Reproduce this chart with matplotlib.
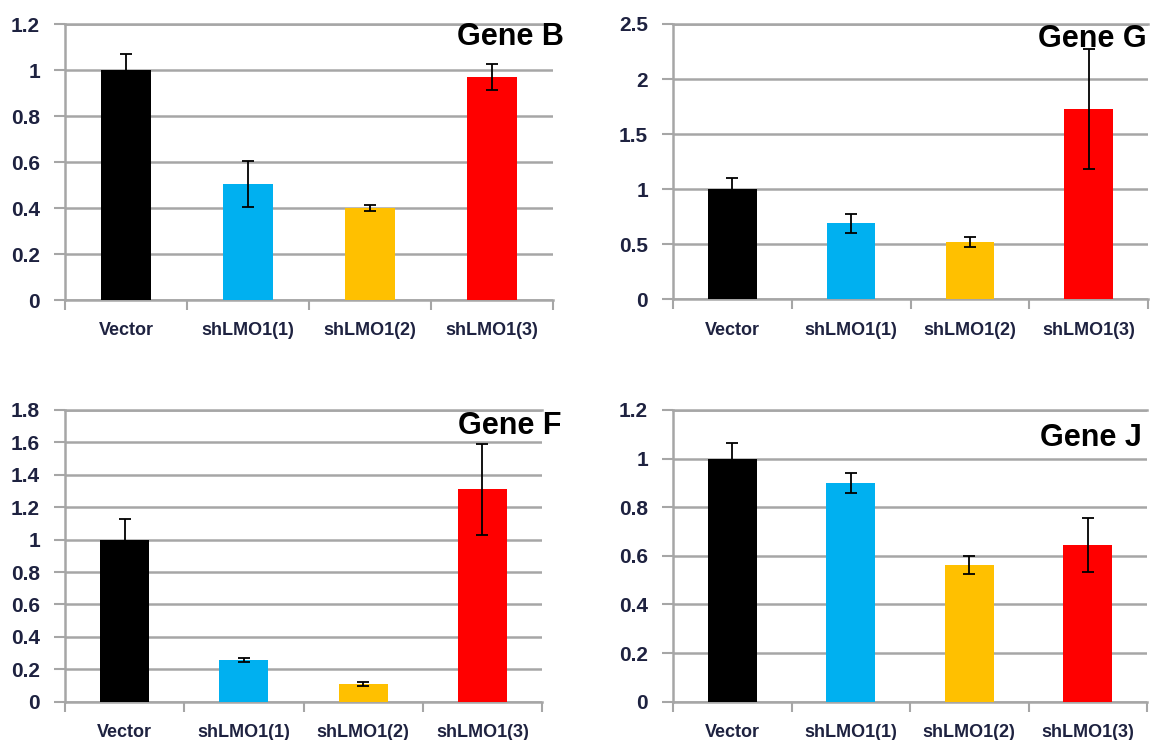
import numpy as np
import matplotlib
matplotlib.use("Agg")
import matplotlib.pyplot as plt
from matplotlib.ticker import FuncFormatter, FixedLocator

plt.rcParams['font.family'] = ['Liberation Sans', 'DejaVu Sans']

categories = ["Vector", "shLMO1(1)", "shLMO1(2)", "shLMO1(3)"]
bar_colors = ["#000000", "#00B0F0", "#FFC000", "#FF0000"]

gene_names = ["Gene B", "Gene G", "Gene F", "Gene J"]
gene_b_vals = [1.00, 0.505, 0.40, 0.968]
gene_b_err = [0.07, 0.10, 0.013, 0.057]
gene_g_vals = [1.00, 0.69, 0.525, 1.725]
gene_g_err = [0.105, 0.085, 0.045, 0.545]
gene_f_vals = [1.00, 0.255, 0.11, 1.31]
gene_f_err = [0.125, 0.013, 0.013, 0.28]
gene_j_vals = [1.00, 0.90, 0.562, 0.645]
gene_j_err = [0.063, 0.042, 0.037, 0.112]

y_max = [1.2, 2.5, 1.8, 1.2]
y_step = [0.2, 0.5, 0.2, 0.2]

W, H = 1150, 740
fig = plt.figure(figsize=(W / 100, H / 100), dpi=100)

# axes boxes in pixels: left, top, right, bottom
boxes = [
    (65, 24, 553, 300),
    (673, 24, 1148, 299.5),
    (65, 410, 542, 701.7),
    (673, 410, 1147, 701.7),
]
title_pos = [(564, 45), (1147, 47), (561, 434), (1142, 446)]

values = [gene_b_vals, gene_g_vals, gene_f_vals, gene_j_vals]
errors = [gene_b_err, gene_g_err, gene_f_err, gene_j_err]

grid_color = "#A6A6A6"
label_color = "#1e2240"

for i in range(4):
    l, t, r, b = boxes[i]
    ax = fig.add_axes([l / W, 1 - b / H, (r - l) / W, (b - t) / H])
    x = np.arange(len(categories))
    ax.bar(x, values[i], width=0.41, color=bar_colors, zorder=3)
    ax.errorbar(x, values[i], yerr=errors[i], fmt="none", ecolor="black",
                elinewidth=1.3, capsize=4.5, capthick=1.3, zorder=4)
    ax.set_xlim(-0.5, len(categories) - 0.5)
    ax.set_ylim(0, y_max[i])
    ticks = np.round(np.arange(0, y_max[i] + 1e-9, y_step[i]), 3)
    ax.set_yticks(ticks)
    ax.yaxis.set_major_formatter(FuncFormatter(lambda v, p: "%g" % v))
    ax.set_xticks(x)
    ax.set_xticklabels(categories, fontsize=13, fontweight="bold", color=label_color)
    ax.xaxis.set_minor_locator(FixedLocator(np.arange(-0.5, len(categories), 1.0)))
    ax.tick_params(axis="x", which="major", length=0, pad=16)
    ax.tick_params(axis="x", which="minor", length=7, width=1.5, color=grid_color, direction="out")
    ax.tick_params(axis="y", which="major", length=8, width=1.5, color=grid_color,
                   direction="out", pad=10, labelsize=15, labelcolor=label_color)
    for lab in ax.get_yticklabels():
        lab.set_fontweight("bold")
    ax.grid(axis="y", color=grid_color, linewidth=1.8, zorder=0)
    ax.set_axisbelow(True)
    for s in ["left", "bottom", "top"]:
        ax.spines[s].set_color(grid_color)
        ax.spines[s].set_linewidth(1.8)
    ax.spines["right"].set_visible(False)
    tx, ty = title_pos[i]
    fig.text(tx / W, 1 - ty / H, gene_names[i], ha="right", va="baseline",
             fontsize=22, fontweight="bold", color="black")

fig.savefig("out.png", dpi=100, facecolor="white")
